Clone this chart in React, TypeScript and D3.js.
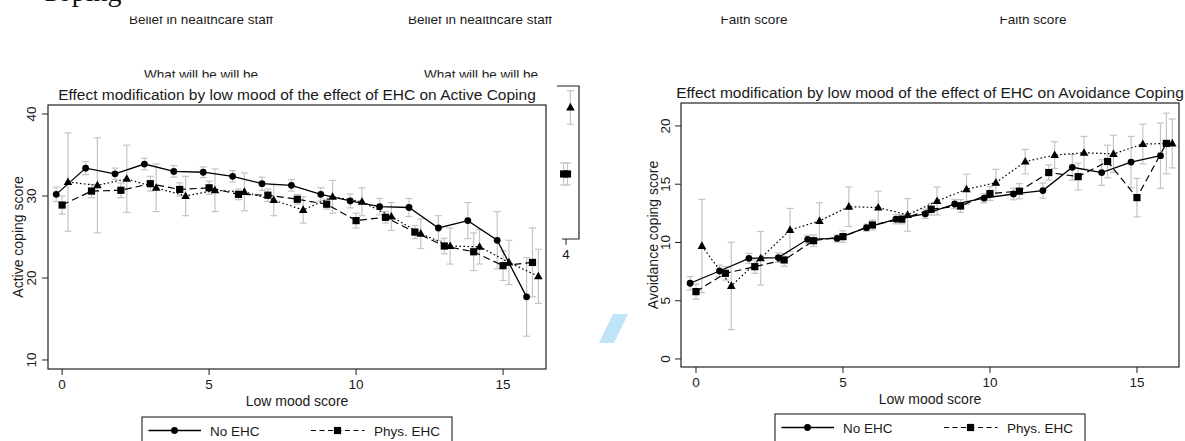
import React from "react";
import * as d3 from "d3";

// ---------- DATA ----------
const lowMood = [0, 1, 2, 3, 4, 5, 6, 7, 8, 9, 10, 11, 12, 13, 14, 15, 16];

const activeNoEHC = [30.2, 33.4, 32.7, 33.9, 33.0, 32.9, 32.4, 31.5, 31.3, 30.2, 29.4, 28.7, 28.6, 26.1, 27.0, 24.6, 17.7];
const activeNoEHCci = [0.87, 0.8, 0.7, 0.7, 0.7, 0.65, 0.7, 0.8, 0.7, 0.8, 0.85, 1.0, 1.1, 1.5, 2.2, 3.5, 4.8];
const activePhys = [28.9, 30.6, 30.7, 31.5, 30.8, 31.0, 30.2, 30.1, 29.6, 29.0, 27.0, 27.4, 25.6, 23.9, 23.2, 21.5, 21.9];
const activePhysci = [1.1, 0.8, 0.9, 0.9, 0.8, 0.8, 0.65, 0.75, 0.6, 0.6, 0.9, 0.7, 0.8, 0.95, 2.3, 1.8, 4.2];
const activeOther = [31.7, 31.3, 32.1, 31.0, 30.0, 30.7, 30.5, 29.5, 28.3, 29.9, 29.3, 27.5, 25.4, 23.9, 23.8, 21.9, 20.2];
const activeOtherci = [6.0, 5.8, 4.1, 2.9, 2.4, 2.6, 2.3, 1.9, 1.6, 2.0, 1.7, 1.7, 1.8, 2.2, 2.1, 2.7, 3.3];

const avoidNoEHC = [6.5, 7.55, 8.64, 8.7, 10.27, 10.35, 11.27, 12.0, 12.45, 13.3, 13.8, 14.16, 14.45, 16.45, 16.0, 16.9, 17.45];
const avoidNoEHCci = [0.57, 0.5, 0.43, 0.4, 0.35, 0.3, 0.3, 0.4, 0.4, 0.4, 0.4, 0.5, 0.65, 1.1, 1.1, 2.2, 2.8];
const avoidPhys = [5.78, 7.35, 7.92, 8.5, 10.15, 10.5, 11.5, 12.0, 12.85, 13.13, 14.2, 14.4, 16.0, 15.65, 16.95, 13.85, 18.5];
const avoidPhysci = [0.65, 0.57, 0.57, 0.55, 0.5, 0.5, 0.43, 0.4, 0.5, 0.55, 0.6, 0.65, 0.65, 1.15, 1.4, 1.65, 2.6];
const avoidOther = [9.7, 6.27, 8.64, 11.07, 11.85, 13.07, 13.0, 12.36, 13.56, 14.56, 15.13, 16.94, 17.5, 17.7, 17.6, 18.45, 18.5];
const avoidOtherci = [4.0, 3.75, 2.3, 1.85, 1.55, 1.7, 1.4, 1.4, 1.2, 1.3, 1.15, 1.05, 1.15, 1.4, 1.6, 1.7, 2.1];

const xTicks = [0, 5, 10, 15];
const activeYTicks = [10, 20, 30, 40];
const avoidYTicks = [0, 5, 10, 15, 20];
const legendLabels = ["No EHC", "Phys. EHC"];

// fragment of a neighbouring panel (cut off)
const fragX = [4.15, 3.92, 4.05];
const fragY = [8.6, 4.25, 4.25];
const fragCI = [1.1, 0.72, 0.72];
const fragXTicks = [4];

const upperTitlesBelief = ["Belief in healthcare staff", "Belief in healthcare staff"];
const upperTitlesWhat = ["What will be will be", "What will be will be"];
const upperTitlesFaith = ["Faith score", "Faith score"];

// ---------- STYLE ----------
const FONT = "'Liberation Sans', Arial, Helvetica, sans-serif";
const TXT = "#1a1a1a";
const CI_COLOR = "#c4c4c4";

type SeriesDef = { vals: number[]; ci: number[]; shift: number; marker: string };

function Marker({ type, x, y }: { type: string; x: number; y: number }) {
  if (type === "circle") return <circle cx={x} cy={y} r={3.4} fill="#000" />;
  if (type === "square") return <rect x={x - 3.6} y={y - 3.6} width={7.2} height={7.2} fill="#000" />;
  return <path d={`M${x},${y - 4.6}L${x + 4.3},${y + 3}L${x - 4.3},${y + 3}Z`} fill="#000" />;
}

function Panel(props: {
  frame: { x0: number; x1: number; y0: number; y1: number };
  xDomain: [number, number];
  yDomain: [number, number];
  yTicks: number[];
  title: string;
  ylabel: string;
  series: SeriesDef[];
  legendX: number;
  legendY: number;
  ylabX: number;
  yTickX: number;
  titleY: number;
}) {
  const { frame, series } = props;
  const x = d3.scaleLinear().domain(props.xDomain).range([frame.x0, frame.x1]);
  const y = d3.scaleLinear().domain(props.yDomain).range([frame.y1, frame.y0]);
  const cx = (frame.x0 + frame.x1) / 2;
  const cy = (frame.y0 + frame.y1) / 2;
  const styles = [
    { dash: null, w: 1.3 },
    { dash: "7,4", w: 1.2 },
    { dash: "1.6,2.4", w: 1.2 },
  ];
  return (
    <g>
      <text x={cx} y={props.titleY} textAnchor="middle" fontSize={15.5} fill={TXT} fontFamily={FONT}>
        {props.title}
      </text>
      {series.map((s, si) =>
        s.vals.map((v, i) => {
          const px = x(lowMood[i] + s.shift);
          const lo = y(v - s.ci[i]);
          const hi = y(v + s.ci[i]);
          return (
            <g key={`e${si}-${i}`} stroke={CI_COLOR} strokeWidth={1.2}>
              <line x1={px} x2={px} y1={lo} y2={hi} />
              <line x1={px - 3.5} x2={px + 3.5} y1={lo} y2={lo} />
              <line x1={px - 3.5} x2={px + 3.5} y1={hi} y2={hi} />
            </g>
          );
        })
      )}
      {series.map((s, si) => {
        const line = d3
          .line<number>()
          .x((_, i) => x(lowMood[i] + s.shift))
          .y((v) => y(v));
        return (
          <path
            key={`l${si}`}
            d={line(s.vals) || ""}
            fill="none"
            stroke="#000"
            strokeWidth={styles[si].w}
            strokeDasharray={styles[si].dash || undefined}
          />
        );
      })}
      {series.map((s, si) =>
        s.vals.map((v, i) => <Marker key={`m${si}-${i}`} type={s.marker} x={x(lowMood[i] + s.shift)} y={y(v)} />)
      )}
      <rect
        x={frame.x0}
        y={frame.y0}
        width={frame.x1 - frame.x0}
        height={frame.y1 - frame.y0}
        fill="none"
        stroke="#222"
        strokeWidth={1.2}
      />
      {xTicks.map((t) => (
        <g key={`xt${t}`}>
          <line x1={x(t)} x2={x(t)} y1={frame.y1} y2={frame.y1 + 6} stroke="#222" strokeWidth={1} />
          <text x={x(t)} y={frame.y1 + 20} textAnchor="middle" fontSize={13.5} fill={TXT} fontFamily={FONT}>
            {t}
          </text>
        </g>
      ))}
      <text x={cx} y={frame.y1 + 37} textAnchor="middle" fontSize={14} fill={TXT} fontFamily={FONT}>
        Low mood score
      </text>
      {props.yTicks.map((t) => (
        <g key={`yt${t}`}>
          <line x1={frame.x0 - 6} x2={frame.x0} y1={y(t)} y2={y(t)} stroke="#222" strokeWidth={1} />
          <text
            transform={`translate(${props.yTickX},${y(t)}) rotate(-90)`}
            textAnchor="middle"
            fontSize={13.5}
            fill={TXT}
            fontFamily={FONT}
          >
            {t}
          </text>
        </g>
      ))}
      <text
        transform={`translate(${props.ylabX},${cy}) rotate(-90)`}
        textAnchor="middle"
        fontSize={14}
        fill={TXT}
        fontFamily={FONT}
      >
        {props.ylabel}
      </text>
      <g transform={`translate(${props.legendX},${props.legendY})`}>
        <rect x={0} y={0} width={310} height={60} fill="#fff" stroke="#222" strokeWidth={1.1} />
        <line x1={6.5} x2={59} y1={13.5} y2={13.5} stroke="#000" strokeWidth={1.3} />
        <Marker type="circle" x={32.5} y={13.5} />
        <text x={68} y={19} fontSize={13.5} fill={TXT} fontFamily={FONT}>
          {legendLabels[0]}
        </text>
        <line x1={169} x2={222.5} y1={13.5} y2={13.5} stroke="#000" strokeWidth={1.2} strokeDasharray="5,3.5" />
        <Marker type="square" x={195.5} y={13.5} />
        <text x={232} y={19} fontSize={13.5} fill={TXT} fontFamily={FONT}>
          {legendLabels[1]}
        </text>
      </g>
    </g>
  );
}

export default function App() {
  const leftSeries: SeriesDef[] = [
    { vals: activeNoEHC, ci: activeNoEHCci, shift: -0.2, marker: "circle" },
    { vals: activePhys, ci: activePhysci, shift: 0, marker: "square" },
    { vals: activeOther, ci: activeOtherci, shift: 0.2, marker: "triangle" },
  ];
  const rightSeries: SeriesDef[] = [
    { vals: avoidNoEHC, ci: avoidNoEHCci, shift: -0.2, marker: "circle" },
    { vals: avoidPhys, ci: avoidPhysci, shift: 0, marker: "square" },
    { vals: avoidOther, ci: avoidOtherci, shift: 0.2, marker: "triangle" },
  ];

  const fx = d3.scaleLinear().domain([4, 5]).range([566, 595.4]);
  const fy = d3.scaleLinear().domain([0, 10]).range([239, 86]);

  return (
    <svg
      width={1185}
      height={441}
      style={{ position: "absolute", left: 0, top: 0, background: "#fff" }}
      xmlns="http://www.w3.org/2000/svg"
    >
      <defs>
        <clipPath id="clipTop">
          <rect x={0} y={16.5} width={1185} height={20} />
        </clipPath>
        <clipPath id="clipWhat">
          <rect x={0} y={50} width={1185} height={27.5} />
        </clipPath>
        <clipPath id="clipCoping">
          <rect x={0} y={0} width={300} height={10} />
        </clipPath>
        <clipPath id="clipFrag">
          <rect x={556} y={80} width={40} height={200} />
        </clipPath>
      </defs>
      <rect x={0} y={0} width={1185} height={441} fill="#fff" />

      <g clipPath="url(#clipCoping)">
        <text x={39} y={0.5} fontSize={28} fontFamily="'Liberation Serif', 'Times New Roman', serif" fill="#111">
          Coping
        </text>
      </g>
      <g clipPath="url(#clipTop)" fontFamily={FONT} fontSize={13.5} fill={TXT} textAnchor="middle">
        <text x={201} y={23.5}>{upperTitlesBelief[0]}</text>
        <text x={480} y={23.5}>{upperTitlesBelief[1]}</text>
        <text x={754} y={23.5}>{upperTitlesFaith[0]}</text>
        <text x={1033} y={23.5}>{upperTitlesFaith[1]}</text>
      </g>
      <g clipPath="url(#clipWhat)" fontFamily={FONT} fontSize={13.5} fill={TXT} textAnchor="middle">
        <text x={201} y={79}>{upperTitlesWhat[0]}</text>
        <text x={481} y={79}>{upperTitlesWhat[1]}</text>
      </g>

      <g clipPath="url(#clipFrag)">
        {fragX.map((v, i) => (
          <g key={`fe${i}`} stroke={CI_COLOR} strokeWidth={1.2}>
            <line x1={fx(v)} x2={fx(v)} y1={fy(fragY[i] - fragCI[i])} y2={fy(fragY[i] + fragCI[i])} />
            <line x1={fx(v) - 3.5} x2={fx(v) + 3.5} y1={fy(fragY[i] - fragCI[i])} y2={fy(fragY[i] - fragCI[i])} />
            <line x1={fx(v) - 3.5} x2={fx(v) + 3.5} y1={fy(fragY[i] + fragCI[i])} y2={fy(fragY[i] + fragCI[i])} />
          </g>
        ))}
        {fragX.map((v, i) => (
          <Marker key={`fm${i}`} type={i === 0 ? "triangle" : "square"} x={fx(v)} y={fy(fragY[i])} />
        ))}
        <polyline points="557,86 579,86 579,239 562,239" fill="none" stroke="#222" strokeWidth={1.2} />
        {fragXTicks.map((t) => (
          <g key={`ft${t}`}>
            <line x1={fx(t)} x2={fx(t)} y1={239} y2={245} stroke="#222" />
            <text x={fx(t)} y={259} textAnchor="middle" fontSize={13.5} fontFamily={FONT} fill={TXT}>
              {t}
            </text>
          </g>
        ))}
      </g>

      <Panel
        frame={{ x0: 48, x1: 546, y0: 105, y1: 369 }}
        xDomain={[-0.48, 16.46]}
        yDomain={[8.9, 41.1]}
        yTicks={activeYTicks}
        title="Effect modification by low mood of the effect of EHC on Active Coping"
        ylabel="Active coping score"
        series={leftSeries}
        legendX={142}
        legendY={417}
        ylabX={23}
        yTickX={36}
        titleY={99.5}
      />
      <Panel
        frame={{ x0: 681, x1: 1179, y0: 103, y1: 367 }}
        xDomain={[-0.51, 16.43]}
        yDomain={[-0.69, 21.97]}
        yTicks={avoidYTicks}
        title="Effect modification by low mood of the effect of EHC on Avoidance Coping"
        ylabel="Avoidance coping score"
        series={rightSeries}
        legendX={775}
        legendY={414}
        ylabX={658}
        yTickX={670}
        titleY={97.5}
      />

      <path d="M613,314 L628,314 L614,343 L599,343 Z" fill="#bfe3f7" />
    </svg>
  );
}
